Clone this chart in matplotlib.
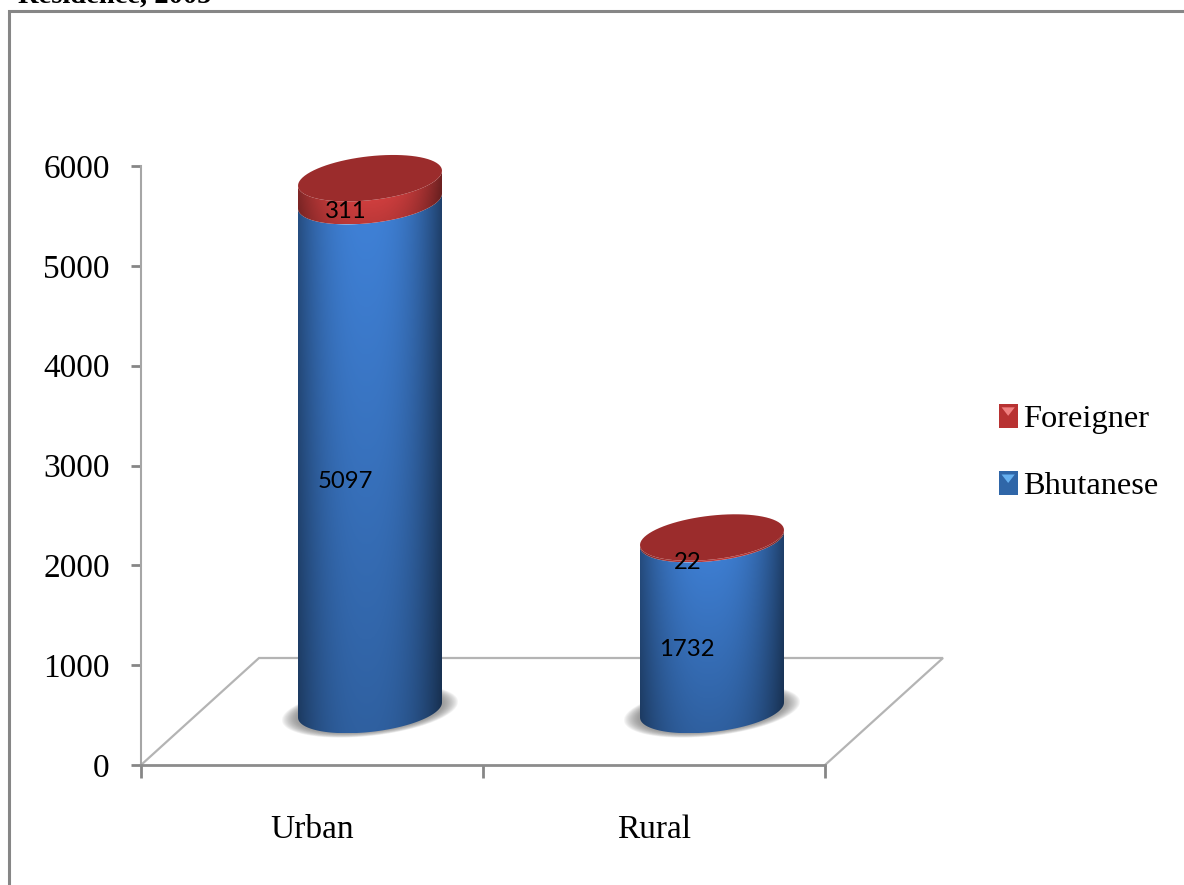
import numpy as np
import matplotlib
matplotlib.use("Agg")
import matplotlib.pyplot as plt
from matplotlib.legend_handler import HandlerBase
from matplotlib.patches import Polygon, Rectangle

categories = ["Urban", "Rural"]
bhutanese = [5097, 1732]
foreigner = [311, 22]
y_ticks = [0, 1000, 2000, 3000, 4000, 5000, 6000]

W, H = 1184, 885
AX_L, AX_R, AX_T, AX_B = 141, 825, 166, 765
PX_X = (AX_R - AX_L) / 2        # pixels per category
PX_Y = (AX_B - AX_T) / 6000     # pixels per unit
SERIF = "Liberation Serif"
SLOPE = 0.104

BLUE = np.array([0.25, 0.51, 0.85])
RED = np.array([0.90, 0.27, 0.27])


def ring(xc, y, a, b, start=0.0, stop=2 * np.pi):
    """tilted ellipse in data coords, a and b are in pixels"""
    t = np.linspace(start, stop, 80)
    px = a * np.cos(t)
    py = b * np.sin(t) + SLOPE * px
    return np.column_stack([xc + px / PX_X, y + py / PX_Y])


def shaded(ax, pts, color, vtop, vbot, zorder):
    """fill a polygon with the cylinder shading"""
    u = np.linspace(0, 1, 120)
    v = np.linspace(0, 1, 120)
    hor = 1 - 0.45 * np.abs(2 * u - 0.95) ** 2.4
    ver = vtop + (vbot - vtop) * v
    shade = np.outer(ver, hor)
    img = np.clip(shade[:, :, None] * color, 0, 1)
    extent = [pts[:, 0].min(), pts[:, 0].max(), pts[:, 1].min(), pts[:, 1].max()]
    im = ax.imshow(img, extent=extent, origin="upper", aspect="auto",
                   interpolation="bilinear", zorder=zorder)
    poly = Polygon(pts, closed=True, transform=ax.transData)
    im.set_clip_path(poly)
    im.set_clip_on(True)


def cylinder(ax, xc, low, high):
    base = 55 / PX_Y
    scale = 0.985
    y0 = base
    y2 = base + (low + high) * scale
    y1 = y2 - high * scale * 0.75

    # soft shadow on the floor
    for k in np.linspace(1, 0, 14):
        ax.add_patch(Polygon(ring(xc, y0 - 1 / PX_Y, 74 + 14 * k, 21 + 4 * k), closed=True,
                             fc="#707070", ec="none", alpha=0.07, zorder=3, clip_on=False))

    low_rim = ring(xc, y0, 72, 22, np.pi, 2 * np.pi)
    mid_rim = ring(xc, y1, 72, 22, np.pi, 2 * np.pi)
    top_rim = ring(xc, y2, 72, 22, np.pi, 2 * np.pi)
    shaded(ax, np.vstack([low_rim, mid_rim[::-1]]), BLUE, 1.0, 0.74, 4)
    shaded(ax, np.vstack([mid_rim, top_rim[::-1]]), RED, 1.0, 0.82, 5)
    ax.add_patch(Polygon(ring(xc, y2, 72, 22), closed=True, fc="#9b2c2c", ec="none",
                         zorder=6, clip_on=False))


class HandlerSwatch(HandlerBase):
    def create_artists(self, legend, orig, xd, yd, width, height, fontsize, trans):
        c = orig.get_facecolor()
        rect = Rectangle((xd * -1, yd * -1), width, height, fc=c, ec="none", transform=trans)
        tri = Polygon([[-xd + width * 0.15, -yd + height * 0.85],
                       [-xd + width * 0.85, -yd + height * 0.85],
                       [-xd + width * 0.5, -yd + height * 0.5]],
                      fc=orig.get_edgecolor(), ec="none", transform=trans)
        return [rect, tri]


def create_graph():
    fig = plt.figure(figsize=(W / 100, H / 100), dpi=100)
    fig.patch.set_facecolor("white")

    # outer frame, it runs off the right and bottom of the picture
    fig.add_artist(Rectangle((8.5 / W, -0.01), 2, 1.01 - 10.5 / H, fc="none", ec="#868686",
                             lw=2.2, transform=fig.transFigure))
    fig.text(18 / W, 1 - 3 / H, "Residence, 2005", family=SERIF, weight="bold",
             fontsize=20.5, color="black", ha="left", va="baseline")

    ax = fig.add_axes([AX_L / W, 1 - AX_B / H, (AX_R - AX_L) / W, (AX_B - AX_T) / H])
    ax.patch.set_alpha(0)
    for name in ["top", "right"]:
        ax.spines[name].set_visible(False)
    ax.spines["left"].set_color("#a6a6a6")
    ax.spines["bottom"].set_color("#8c8c8c")
    ax.spines["left"].set_linewidth(1.5)
    ax.spines["bottom"].set_linewidth(2)

    # floor of the 3d box
    dx, dy = 118 / PX_X, 107 / PX_Y
    ax.plot([0, dx, 2 + dx, 2], [0, dy, dy, 0], color="#b4b4b4", lw=1.6,
            clip_on=False, zorder=1, solid_joinstyle="miter")

    depth = 58 / PX_X
    for i in range(len(categories)):
        cylinder(ax, i + 0.5 + depth, bhutanese[i], foreigner[i])
        for val, mid in [(bhutanese[i], bhutanese[i] / 2),
                         (foreigner[i], bhutanese[i] + foreigner[i] / 2)]:
            ax.annotate(str(val), (i + 0.5, mid), xytext=(24, 20.7), textcoords="offset points",
                        family="Lato", fontsize=17.2, color="black", ha="center",
                        va="center", zorder=8)

    ax.set_xlim(0, 2)
    ax.set_ylim(0, 6000)
    ax.set_xticks([0, 1, 2])
    ax.set_xticklabels([])
    ax.set_xticks([0.5, 1.5], labels=categories, minor=True)
    ax.tick_params(axis="x", which="major", length=9, width=2, color="#868686")
    ax.tick_params(axis="x", which="minor", length=0, pad=36, labelsize=24)
    ax.set_yticks(y_ticks)
    ax.tick_params(axis="y", length=7.5, width=2, color="#868686", pad=15, labelsize=24)
    for lab in ax.get_xticklabels(minor=True) + ax.get_yticklabels():
        lab.set_family(SERIF)

    handles = [Rectangle((0, 0), 1, 1, fc="#b83232", ec="#f08080"),
               Rectangle((0, 0), 1, 1, fc="#2f66a8", ec="#66b0f0")]
    fig.legend(handles, ["Foreigner", "Bhutanese"], loc="center left",
               bbox_to_anchor=(969.5 / W, 1 - 452.5 / H), frameon=False,
               prop={"family": SERIF, "size": 23.4}, handlelength=0.58,
               handleheight=0.77, handletextpad=0.16, labelspacing=1.13,
               handler_map={Rectangle: HandlerSwatch()})

    fig.savefig("out.png", dpi=100)


def main():
    create_graph()


if __name__ == '__main__':
    main()
